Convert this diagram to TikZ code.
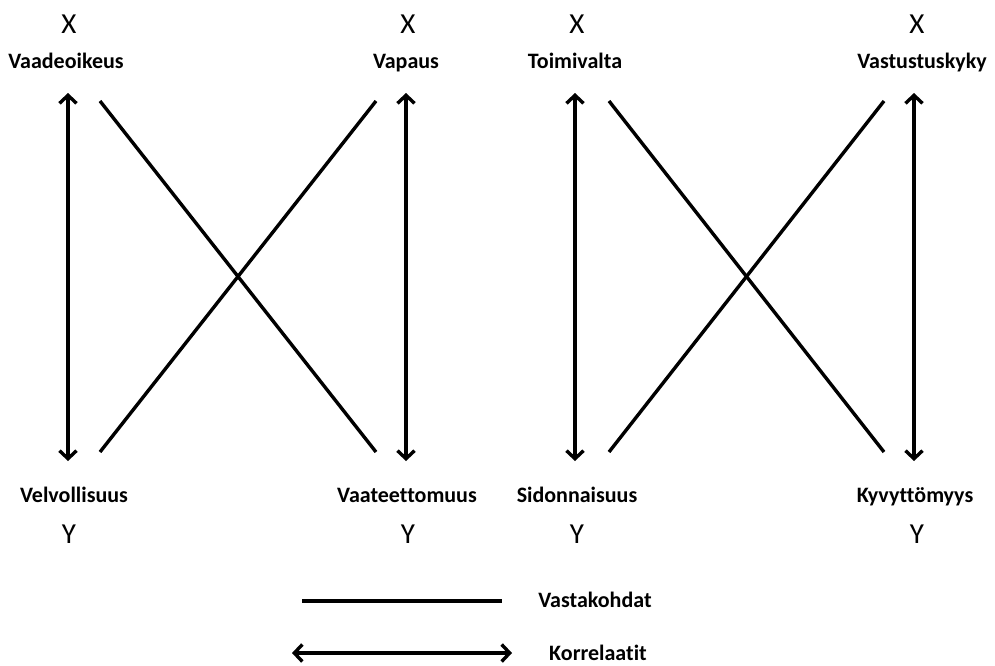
\documentclass[tikz,border=0pt]{standalone}
\usepackage{fontspec}
\setmainfont{Carlito}[Ligatures=NoCommon]
\usetikzlibrary{arrows.meta}
\begin{document}
\begin{tikzpicture}[x=1pt,y=-1pt,
  letter/.style={font=\fontsize{29}{32}\selectfont, inner sep=0pt, anchor=base},
  term/.style={font=\fontsize{22}{26}\selectfont\bfseries, inner sep=0pt, anchor=base},
  opp/.style={line width=3.4pt},
  corr/.style={line width=3.4pt, {Straight Barb[length=8pt,width=17pt,line width=3.4pt]}-{Straight Barb[length=8pt,width=17pt,line width=3.4pt]}}]
\useasboundingbox (0,0) rectangle (995,665);

% X / Y markers
\node[letter] (x1) at (69,33) {X};
\node[letter] (x2) at (408,33) {X};
\node[letter] (x3) at (577,33) {X};
\node[letter] (x4) at (917,33) {X};
\node[letter] (y1) at (69,543) {Y};
\node[letter] (y2) at (408,543) {Y};
\node[letter] (y3) at (577,543) {Y};
\node[letter] (y4) at (917,543) {Y};

% concept terms
\node[term] (t1) at (66,68) {Vaadeoikeus};
\node[term] (t2) at (406,68) {Vapaus};
\node[term] (t3) at (575,68) {Toimivalta};
\node[term] (t4) at (922,68) {Vastustuskyky};
\node[term] (b1) at (74,502) {Velvollisuus};
\node[term] (b2) at (407,502) {Vaateettomuus};
\node[term] (b3) at (577,502) {Sidonnaisuus};
\node[term] (b4) at (915,502) {Kyvyttömyys};

% end points of the connectors
\coordinate (ca1) at (68,93);   \coordinate (cb1) at (68,461);
\coordinate (ca2) at (406,93);  \coordinate (cb2) at (406,461);
\coordinate (ca3) at (575,93);  \coordinate (cb3) at (575,461);
\coordinate (ca4) at (914,93);  \coordinate (cb4) at (914,461);

\coordinate (oa1) at (100,101); \coordinate (ob1) at (100,452);
\coordinate (oa2) at (376,101); \coordinate (ob2) at (376,452);
\coordinate (oa3) at (609,101); \coordinate (ob3) at (609,452);
\coordinate (oa4) at (884,101); \coordinate (ob4) at (884,452);

% correlatives
\draw[corr] (ca1) -- (cb1);
\draw[corr] (ca2) -- (cb2);
\draw[corr] (ca3) -- (cb3);
\draw[corr] (ca4) -- (cb4);

% opposites
\draw[opp] (oa1) -- (ob2);
\draw[opp] (oa2) -- (ob1);
\draw[opp] (oa3) -- (ob4);
\draw[opp] (oa4) -- (ob3);

% legend
\coordinate (la) at (302,601); \coordinate (lb) at (502,601);
\coordinate (ka) at (292,653); \coordinate (kb) at (512,653);
\draw[opp] (la) -- (lb);
\draw[corr] (ka) -- (kb);
\node[term] (lv) at (595,607) {Vastakohdat};
\node[term] (lk) at (598,660) {Korrelaatit};
\end{tikzpicture}
\end{document}
